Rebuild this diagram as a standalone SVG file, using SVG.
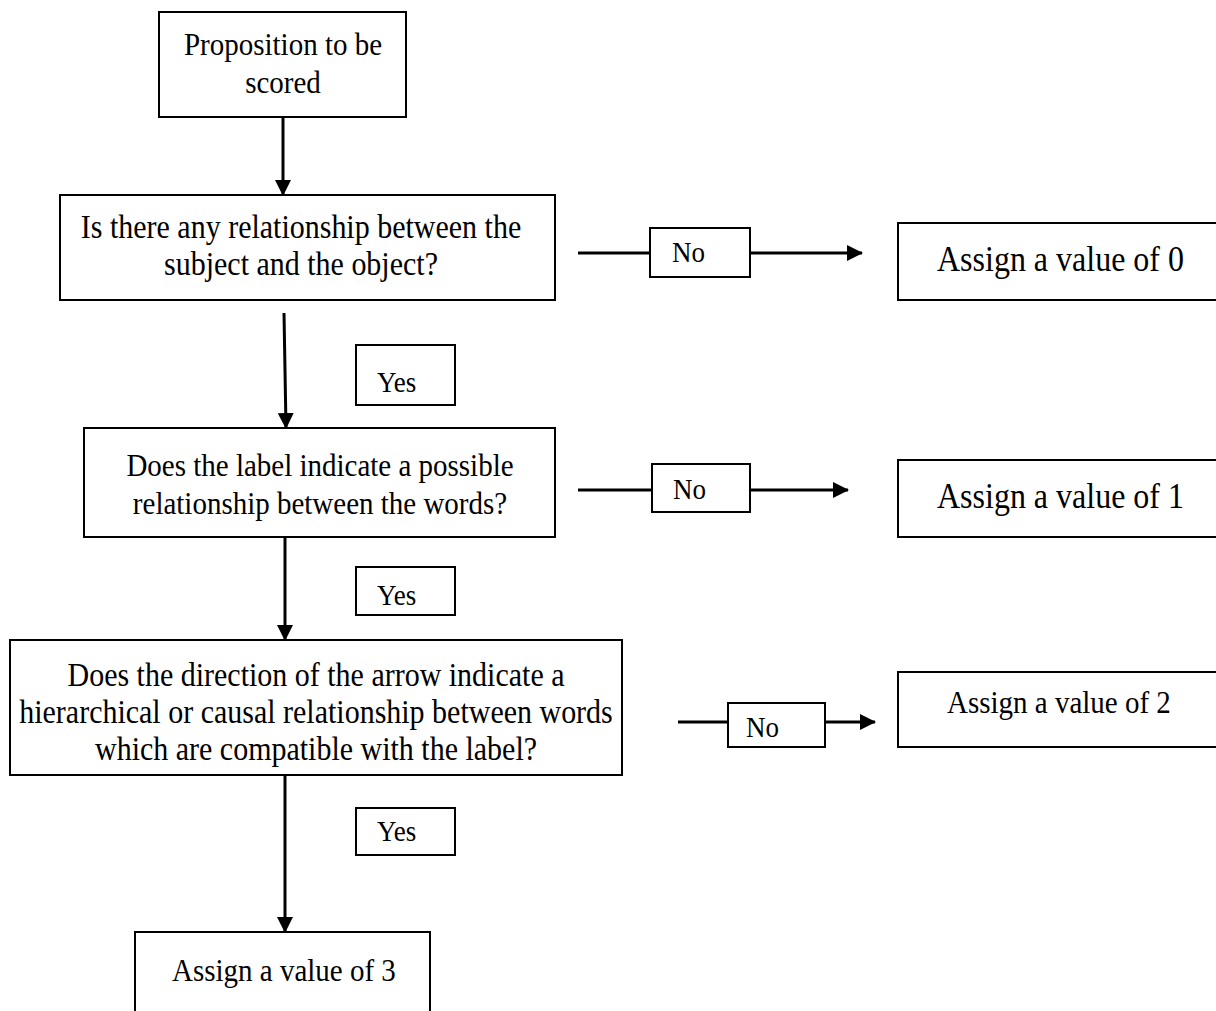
<svg xmlns="http://www.w3.org/2000/svg" width="1216" height="1011" viewBox="0 0 1216 1011">
  <style>
    .box { fill: #fff; stroke: #000; stroke-width: 2; }
    .lbl { fill: #fff; stroke: #000; stroke-width: 2; }
    .t { font-family: "Liberation Serif", "Times New Roman", serif; fill: #000; }
    .q { font-size: 30px; text-anchor: middle; }
    .q29 { font-size: 29px; text-anchor: middle; }
    .a { font-size: 32px; }
    .s { font-size: 29px; }
    .yn { font-size: 27px; }
    .edge { stroke: #000; stroke-width: 3; fill: none; marker-end: url(#head); }
    .plain { stroke: #000; stroke-width: 3; fill: none; }
  </style>
  <defs>
    <marker id="head" markerUnits="userSpaceOnUse" markerWidth="16" markerHeight="16" refX="15" refY="8" orient="auto">
      <path d="M0,0 L16,8 L0,16 Z" fill="#000"/>
    </marker>
  </defs>
  <rect width="1216" height="1011" fill="#fff"/>

  <g id="connectors">
    <line class="edge" x1="283" y1="117" x2="283" y2="195"/>
    <line class="edge" x1="284" y1="313" x2="286" y2="428"/>
    <line class="edge" x1="285" y1="537" x2="285" y2="640"/>
    <line class="edge" x1="285" y1="775" x2="285" y2="932"/>
    <line class="plain" x1="578" y1="253" x2="650" y2="253"/>
    <line class="edge" x1="750" y1="253" x2="862" y2="253"/>
    <line class="plain" x1="578" y1="490" x2="652" y2="490"/>
    <line class="edge" x1="750" y1="490" x2="848" y2="490"/>
    <line class="plain" x1="678" y1="722" x2="728" y2="722"/>
    <line class="edge" x1="825" y1="722" x2="875" y2="722"/>
  </g>

  <!-- text is set in a slightly tall face: each line is placed at its baseline and stretched 1.1x vertically -->
  <g id="start">
    <rect class="box" x="159" y="12" width="247" height="105"/>
    <text class="t q29" transform="translate(283,55) scale(1,1.1)">Proposition to be</text>
    <text class="t q29" transform="translate(283,93) scale(1,1.1)">scored</text>
  </g>

  <g id="q-relationship">
    <rect class="box" x="60" y="195" width="495" height="105"/>
    <text class="t q" transform="translate(301,238) scale(1,1.1)">Is there any relationship between the</text>
    <text class="t q" transform="translate(301,275) scale(1,1.1)">subject and the object?</text>
  </g>

  <g id="q-label">
    <rect class="box" x="84" y="428" width="471" height="109"/>
    <text class="t q29" transform="translate(320,476) scale(1,1.1)">Does the label indicate a possible</text>
    <text class="t q29" transform="translate(320,514) scale(1,1.1)">relationship between the words?</text>
  </g>

  <g id="q-direction">
    <rect class="box" x="10" y="640" width="612" height="135"/>
    <text class="t q" transform="translate(316,686) scale(1,1.1)">Does the direction of the arrow indicate a</text>
    <text class="t q" transform="translate(316,723) scale(1,1.1)">hierarchical or causal relationship between words</text>
    <text class="t q" transform="translate(316,760) scale(1,1.1)">which are compatible with the label?</text>
  </g>

  <g id="value-0">
    <rect class="box" x="898" y="223" width="330" height="77"/>
    <text class="t a" transform="translate(937,271) scale(1,1.1)">Assign a value of 0</text>
  </g>

  <g id="value-1">
    <rect class="box" x="898" y="460" width="330" height="77"/>
    <text class="t a" transform="translate(937,508) scale(1,1.1)">Assign a value of 1</text>
  </g>

  <g id="value-2">
    <rect class="box" x="898" y="672" width="330" height="75"/>
    <text class="t s" transform="translate(947,713) scale(1,1.1)">Assign a value of 2</text>
  </g>

  <g id="value-3">
    <rect class="box" x="135" y="932" width="295" height="90"/>
    <text class="t s" transform="translate(172,981) scale(1,1.1)">Assign a value of 3</text>
  </g>

  <g id="no-1">
    <rect class="lbl" x="650" y="228" width="100" height="49"/>
    <text class="t yn" transform="translate(672,262) scale(1,1.1)">No</text>
  </g>
  <g id="no-2">
    <rect class="lbl" x="652" y="464" width="98" height="48"/>
    <text class="t yn" transform="translate(673,499) scale(1,1.1)">No</text>
  </g>
  <g id="no-3">
    <rect class="lbl" x="728" y="703" width="97" height="44"/>
    <text class="t yn" transform="translate(746,737) scale(1,1.1)">No</text>
  </g>

  <g id="yes-1">
    <rect class="lbl" x="356" y="345" width="99" height="60"/>
    <text class="t yn" transform="translate(377,392) scale(1,1.1)">Yes</text>
  </g>
  <g id="yes-2">
    <rect class="lbl" x="356" y="567" width="99" height="48"/>
    <text class="t yn" transform="translate(377,605) scale(1,1.1)">Yes</text>
  </g>
  <g id="yes-3">
    <rect class="lbl" x="356" y="808" width="99" height="47"/>
    <text class="t yn" transform="translate(377,841) scale(1,1.1)">Yes</text>
  </g>
</svg>
